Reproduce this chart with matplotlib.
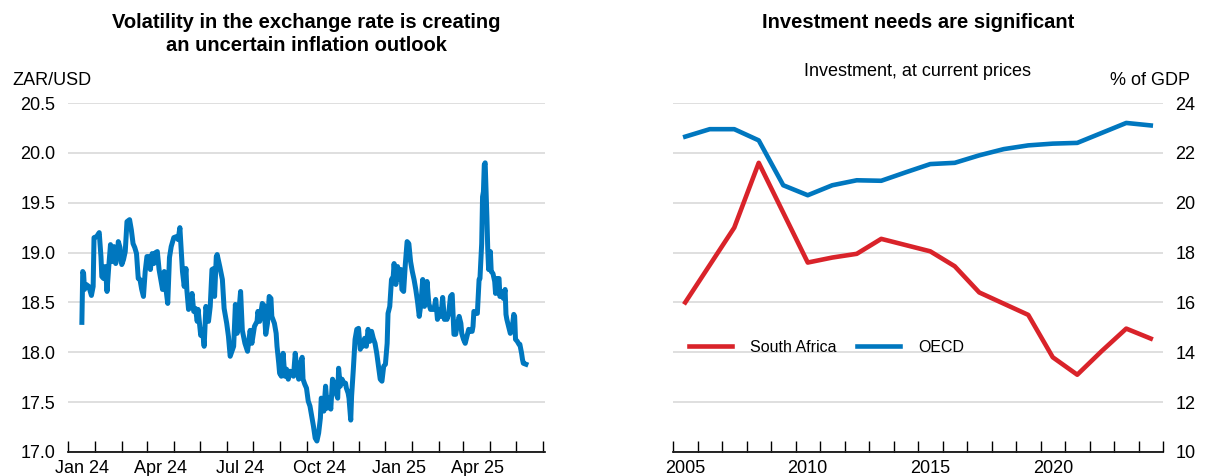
import matplotlib
matplotlib.use('Agg')
import matplotlib.pyplot as plt
import matplotlib.dates as mdates
import pandas as pd
import numpy as np

plt.rcParams['font.family'] = ['Liberation Sans', 'DejaVu Sans']

BLUE = '#0077bf'
RED = '#d9232a'
GRID = '#d9d9d9'

# ZAR/USD exchange rate
fx_dates = [
    '2024-01-01', '2024-01-02', '2024-01-03', '2024-01-04', '2024-01-06', '2024-01-09', '2024-01-12',
    '2024-01-14', '2024-01-15', '2024-01-18', '2024-01-21', '2024-01-23', '2024-01-24', '2024-01-26',
    '2024-01-28', '2024-01-30', '2024-02-01', '2024-02-03', '2024-02-05', '2024-02-07', '2024-02-09',
    '2024-02-11', '2024-02-12', '2024-02-14', '2024-02-16', '2024-02-18', '2024-02-20', '2024-02-22',
    '2024-02-25', '2024-02-27', '2024-02-29', '2024-03-02', '2024-03-04', '2024-03-06', '2024-03-08',
    '2024-03-10', '2024-03-12', '2024-03-14', '2024-03-16', '2024-03-18', '2024-03-20', '2024-03-22',
    '2024-03-24', '2024-03-26', '2024-03-28', '2024-03-30', '2024-04-01', '2024-04-03', '2024-04-05',
    '2024-04-07', '2024-04-09', '2024-04-11', '2024-04-13', '2024-04-16', '2024-04-19', '2024-04-21',
    '2024-04-23', '2024-04-26', '2024-04-28', '2024-04-30', '2024-05-01', '2024-05-03', '2024-05-05',
    '2024-05-07', '2024-05-09', '2024-05-11', '2024-05-13', '2024-05-14', '2024-05-17', '2024-05-19',
    '2024-05-21', '2024-05-23', '2024-05-26', '2024-05-28', '2024-05-30', '2024-06-01', '2024-06-02',
    '2024-06-04', '2024-06-05', '2024-06-08', '2024-06-11', '2024-06-13', '2024-06-16', '2024-06-18',
    '2024-06-20', '2024-06-24', '2024-06-26', '2024-06-28', '2024-07-02', '2024-07-04', '2024-07-07',
    '2024-07-10', '2024-07-13', '2024-07-15', '2024-07-18', '2024-07-21', '2024-07-22', '2024-07-24',
    '2024-07-27', '2024-07-29', '2024-07-31', '2024-08-02', '2024-08-04', '2024-08-06', '2024-08-07',
    '2024-08-10', '2024-08-12', '2024-08-13', '2024-08-15', '2024-08-16', '2024-08-18', '2024-08-20',
    '2024-08-22', '2024-08-24', '2024-08-26', '2024-08-28', '2024-08-30', '2024-09-01', '2024-09-03',
    '2024-09-05', '2024-09-07', '2024-09-09', '2024-09-11', '2024-09-12', '2024-09-14', '2024-09-16',
    '2024-09-18', '2024-09-20', '2024-09-22', '2024-09-24', '2024-09-26', '2024-09-28', '2024-09-30',
    '2024-10-02', '2024-10-03', '2024-10-05', '2024-10-06', '2024-10-08', '2024-10-10', '2024-10-12',
    '2024-10-14', '2024-10-16', '2024-10-18', '2024-10-20', '2024-10-22', '2024-10-23', '2024-10-25',
    '2024-10-27', '2024-10-29', '2024-10-31', '2024-11-01', '2024-11-03', '2024-11-04', '2024-11-06',
    '2024-11-07', '2024-11-09', '2024-11-11', '2024-11-13', '2024-11-15', '2024-11-17', '2024-11-19',
    '2024-11-20', '2024-11-22', '2024-11-24', '2024-11-26', '2024-11-28', '2024-11-30', '2024-12-02',
    '2024-12-04', '2024-12-06', '2024-12-08', '2024-12-10', '2024-12-12', '2024-12-14', '2024-12-16',
    '2024-12-18', '2024-12-19', '2024-12-21', '2024-12-23', '2024-12-25', '2024-12-26', '2024-12-28',
    '2024-12-30', '2025-01-01', '2025-01-03', '2025-01-04', '2025-01-06', '2025-01-08', '2025-01-10',
    '2025-01-12', '2025-01-14', '2025-01-16', '2025-01-18', '2025-01-20', '2025-01-22', '2025-01-24',
    '2025-01-26', '2025-01-28', '2025-01-30', '2025-02-01', '2025-02-02', '2025-02-04', '2025-02-06',
    '2025-02-08', '2025-02-10', '2025-02-12', '2025-02-14', '2025-02-16', '2025-02-18', '2025-02-20',
    '2025-02-22', '2025-02-24', '2025-02-25', '2025-02-27', '2025-03-01', '2025-03-03', '2025-03-05',
    '2025-03-07', '2025-03-09', '2025-03-11', '2025-03-13', '2025-03-14', '2025-03-16', '2025-03-18',
    '2025-03-20', '2025-03-22', '2025-03-24', '2025-03-26', '2025-03-27', '2025-03-28', '2025-03-30',
    '2025-04-01', '2025-04-03', '2025-04-04', '2025-04-06', '2025-04-07', '2025-04-08', '2025-04-09',
    '2025-04-10', '2025-04-12', '2025-04-13', '2025-04-14', '2025-04-16', '2025-04-17', '2025-04-19',
    '2025-04-21', '2025-04-22', '2025-04-24', '2025-04-26', '2025-04-27', '2025-04-29', '2025-05-01',
    '2025-05-03', '2025-05-04', '2025-05-05', '2025-05-07', '2025-05-09', '2025-05-11', '2025-05-13',
    '2025-05-14', '2025-05-15', '2025-05-17', '2025-05-19', '2025-05-20', '2025-05-22', '2025-05-23',
    '2025-05-24', '2025-05-27',
]
fx_values = [
    18.30, 18.81, 18.79, 18.63, 18.68, 18.66, 18.57,
    18.66, 19.15, 19.16, 19.20, 18.96, 18.76, 18.74,
    18.86, 18.61, 18.86, 19.08, 18.91, 19.06, 18.89,
    18.96, 19.11, 19.05, 18.88, 18.93, 19.01, 19.31,
    19.33, 19.23, 19.09, 19.05, 18.99, 18.74, 18.73,
    18.63, 18.56, 18.81, 18.96, 18.96, 18.83, 18.99,
    18.89, 19.00, 19.01, 18.83, 18.73, 18.63, 18.81,
    18.63, 18.49, 18.95, 19.06, 19.15, 19.16, 19.13,
    19.25, 18.81, 18.66, 18.84, 18.63, 18.43, 18.46,
    18.59, 18.41, 18.44, 18.31, 18.43, 18.17, 18.22,
    18.06, 18.46, 18.31, 18.46, 18.83, 18.84, 18.56,
    18.96, 18.98, 18.86, 18.73, 18.44, 18.29, 18.16,
    17.96, 18.06, 18.48, 18.19, 18.61, 18.22, 18.09,
    18.01, 18.22, 18.09, 18.26, 18.31, 18.41, 18.31,
    18.49, 18.47, 18.18, 18.29, 18.56, 18.54, 18.36,
    18.29, 18.19, 18.06, 17.89, 17.79, 17.76, 17.99,
    17.76, 17.83, 17.73, 17.81, 17.79, 17.76, 17.99,
    17.83, 17.73, 17.89, 17.95, 17.73, 17.68, 17.64,
    17.51, 17.46, 17.36, 17.26, 17.14, 17.11, 17.19,
    17.34, 17.54, 17.53, 17.41, 17.66, 17.44, 17.54,
    17.43, 17.73, 17.69, 17.59, 17.54, 17.84, 17.66,
    17.73, 17.69, 17.69, 17.64, 17.59, 17.54, 17.32,
    17.56, 17.83, 18.13, 18.23, 18.24, 18.03, 18.09,
    18.06, 18.14, 18.06, 18.23, 18.11, 18.21, 18.14,
    18.09, 17.99, 17.86, 17.73, 17.71, 17.86, 17.88,
    18.09, 18.39, 18.46, 18.73, 18.76, 18.89, 18.68,
    18.86, 18.73, 18.83, 18.63, 18.61, 18.89, 19.11,
    19.09, 18.91, 18.81, 18.73, 18.63, 18.51, 18.36,
    18.49, 18.73, 18.46, 18.63, 18.71, 18.49, 18.43,
    18.43, 18.43, 18.53, 18.33, 18.43, 18.36, 18.55,
    18.33, 18.36, 18.33, 18.39, 18.56, 18.58, 18.18,
    18.18, 18.28, 18.36, 18.29, 18.19, 18.13, 18.09,
    18.16, 18.23, 18.21, 18.21, 18.26, 18.41, 18.39,
    18.39, 18.73, 18.74, 19.09, 19.56, 19.61, 19.88,
    19.90, 19.36, 19.03, 18.83, 19.01, 18.81, 18.79,
    18.71, 18.59, 18.74, 18.74, 18.56, 18.61, 18.54,
    18.63, 18.38, 18.33, 18.26, 18.19, 18.23, 18.38,
    18.36, 18.13, 18.11, 18.08, 18.08, 17.99, 17.93,
    17.89, 17.88,
]

# Investment, % of GDP
years = list(range(2005, 2025))
south_africa = [16.0, 17.5, 19.0, 21.6, 19.6, 17.6, 17.8, 17.95, 18.55, 18.3,
                18.05, 17.45, 16.4, 15.95, 15.5, 13.8, 13.1, 14.05, 14.95, 14.55]
oecd = [22.65, 22.95, 22.95, 22.5, 20.7, 20.3, 20.7, 20.9, 20.88, 21.22,
        21.55, 21.6, 21.9, 22.15, 22.3, 22.37, 22.4, 22.8, 23.2, 23.1]

fig = plt.figure(figsize=(12.07, 4.76), dpi=100)

# ---- left panel: exchange rate
ax1 = fig.add_axes([68 / 1207, 24 / 476, 477 / 1207, 349 / 476])
dates = pd.to_datetime(fx_dates)
ax1.plot(dates, fx_values, color=BLUE, linewidth=3.6, solid_joinstyle='round')
ax1.set_ylim(17.0, 20.5)
ax1.set_yticks(np.arange(17.0, 20.51, 0.5))
ax1.yaxis.set_major_formatter(matplotlib.ticker.FormatStrFormatter('%.1f'))
ax1.set_xlim(pd.Timestamp('2023-12-16'), pd.Timestamp('2025-06-18'))
ax1.xaxis.set_major_locator(mdates.MonthLocator(bymonth=[1, 4, 7, 10]))
ax1.xaxis.set_major_formatter(mdates.DateFormatter('%b %y'))
ax1.xaxis.set_minor_locator(mdates.MonthLocator(bymonthday=16))
ax1.grid(axis='y', color=GRID, linewidth=1.2)
ax1.set_axisbelow(True)
ax1.tick_params(axis='y', length=0, pad=9, labelsize=13)
ax1.tick_params(axis='x', which='major', length=0, pad=6, labelsize=13)
ax1.tick_params(axis='x', which='minor', direction='in', length=8, width=1)
for s in ['left', 'right', 'top']:
    ax1.spines[s].set_visible(False)
ax1.spines['bottom'].set_linewidth(1.2)

fig.text(306 / 1207, 1 - 34 / 476,
         'Volatility in the exchange rate is creating\nan uncertain inflation outlook',
         ha='center', va='center', fontsize=14.5, fontweight='bold', linespacing=1.25)
fig.text(12 / 1207, 1 - 80 / 476, 'ZAR/USD', ha='left', va='center', fontsize=13)

# ---- right panel: investment
ax2 = fig.add_axes([673 / 1207, 24 / 476, 490 / 1207, 349 / 476])
x_mid = np.array(years) + 0.5
ax2.plot(x_mid, south_africa, color=RED, linewidth=3.3, label='South Africa')
ax2.plot(x_mid, oecd, color=BLUE, linewidth=3.3, label='OECD')
ax2.set_ylim(10, 24)
ax2.set_yticks(range(10, 25, 2))
ax2.yaxis.tick_right()
ax2.set_xlim(2005, 2025)
ax2.set_xticks([2005.5, 2010.5, 2015.5, 2020.5])
ax2.set_xticklabels(['2005', '2010', '2015', '2020'])
ax2.set_xticks(range(2005, 2026), minor=True)
ax2.grid(axis='y', color=GRID, linewidth=1.2)
ax2.set_axisbelow(True)
ax2.tick_params(axis='y', length=0, pad=9, labelsize=13)
ax2.tick_params(axis='x', which='major', length=0, pad=6, labelsize=13)
ax2.tick_params(axis='x', which='minor', direction='in', length=8, width=1)
for s in ['left', 'right', 'top']:
    ax2.spines[s].set_visible(False)
ax2.spines['bottom'].set_linewidth(1.2)

ax2.legend(loc='center left', bbox_to_anchor=(0.02, 0.30), ncol=2, frameon=False,
           fontsize=11.5, handlelength=2.7, handletextpad=1.1, columnspacing=1.3,
           borderaxespad=0)

fig.text(918 / 1207, 1 - 22 / 476, 'Investment needs are significant',
         ha='center', va='center', fontsize=14.5, fontweight='bold')
fig.text(918 / 1207, 1 - 72 / 476, 'Investment, at current prices',
         ha='center', va='center', fontsize=13)
fig.text(1190 / 1207, 1 - 80 / 476, '% of GDP', ha='right', va='center', fontsize=13)

fig.savefig('out.png', dpi=100)
